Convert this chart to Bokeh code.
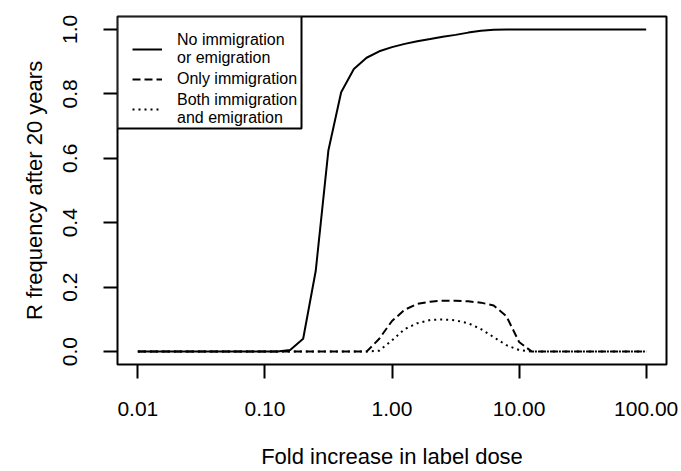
from bokeh.plotting import figure
from bokeh.models import Legend, LegendItem, FixedTicker, Range1d, BoxAnnotation
from bokeh.embed import file_html
from bokeh.resources import INLINE

# Fold increase in label dose (log-spaced sample points)
dose = [0.01, 0.0126, 0.0158, 0.02, 0.0251, 0.0316, 0.0398, 0.0501, 0.0631, 0.0794,
        0.1, 0.126, 0.158, 0.2, 0.251, 0.316, 0.398, 0.501, 0.631, 0.794,
        1.0, 1.26, 1.58, 2.0, 2.51, 3.16, 3.98, 5.01, 6.31, 7.94,
        10.0, 12.6, 15.8, 20.0, 25.1, 31.6, 39.8, 50.1, 63.1, 79.4, 100.0]

# R frequency after 20 years
no_migration = [0, 0, 0, 0, 0, 0, 0, 0, 0, 0,
                0, 0, 0.005, 0.04, 0.25, 0.625, 0.805, 0.877, 0.912, 0.932,
                0.945, 0.955, 0.963, 0.970, 0.977, 0.983, 0.990, 0.996, 0.999, 1.0,
                1.0, 1.0, 1.0, 1.0, 1.0, 1.0, 1.0, 1.0, 1.0, 1.0, 1.0]
only_immigration = [0, 0, 0, 0, 0, 0, 0, 0, 0, 0,
                    0, 0, 0, 0, 0, 0, 0, 0, 0, 0.04,
                    0.095, 0.13, 0.148, 0.155, 0.158, 0.158, 0.156, 0.152, 0.143, 0.11,
                    0.03, 0, 0, 0, 0, 0, 0, 0, 0, 0, 0]
both_migration = [0, 0, 0, 0, 0, 0, 0, 0, 0, 0,
                  0, 0, 0, 0, 0, 0, 0, 0, 0, 0.003,
                  0.035, 0.07, 0.088, 0.098, 0.1, 0.097, 0.088, 0.07, 0.045, 0.02,
                  0.005, 0, 0, 0, 0, 0, 0, 0, 0, 0, 0]

series_labels = ["No immigration\nor emigration", "Only immigration",
                 "Both immigration\nand emigration"]

x_ticks = [0.01, 0.1, 1, 10, 100]
x_tick_labels = ["0.01", "0.10", "1.00", "10.00", "100.00"]
y_ticks = [0.0, 0.2, 0.4, 0.6, 0.8, 1.0]
y_tick_labels = ["0.0", "0.2", "0.4", "0.6", "0.8", "1.0"]

FONT = "Liberation Sans"

p = figure(frame_width=549, frame_height=348, x_axis_type="log",
           x_range=Range1d(0.01 / 10 ** 0.16, 100 * 10 ** 0.16),
           y_range=Range1d(-0.04, 1.04),
           output_backend="svg", toolbar_location=None,
           min_border_left=117, min_border_right=15,
           min_border_top=16, min_border_bottom=107)

p.xgrid.visible = False
p.ygrid.visible = False
p.outline_line_color = "black"
p.outline_line_width = 2
p.outline_line_alpha = 1
p.background_fill_color = "white"
p.border_fill_color = "white"

r1 = p.line(dose, no_migration, line_color="black", line_width=2)
r2 = p.line(dose, only_immigration, line_color="black", line_width=2, line_dash="8 4")
r3 = p.line(dose, both_migration, line_color="black", line_width=2, line_dash="2 4")

for ax in (p.xaxis[0], p.yaxis[0]):
    ax.axis_line_color = None
    ax.major_tick_out = 14
    ax.major_tick_in = 0
    ax.major_tick_line_width = 2
    ax.major_tick_line_color = "black"
    ax.minor_tick_line_color = None
    ax.major_label_text_font = FONT
    ax.major_label_text_font_size = "21px"
    ax.major_label_text_color = "black"
    ax.axis_label_text_font = FONT
    ax.axis_label_text_font_size = "22px"
    ax.axis_label_text_font_style = "normal"
    ax.axis_label_text_color = "black"

xa = p.xaxis[0]
xa.ticker = FixedTicker(ticks=x_ticks)
xa.major_label_overrides = {t: l for t, l in zip(x_ticks, x_tick_labels)}
xa.axis_label = "Fold increase in label dose"
xa.major_label_standoff = 23
xa.axis_label_standoff = 25

ya = p.yaxis[0]
ya.ticker = FixedTicker(ticks=y_ticks)
ya.major_label_overrides = {t: l for t, l in zip(y_ticks, y_tick_labels)}
ya.major_label_orientation = "vertical"
ya.axis_label = "R frequency after 20 years"
ya.major_label_standoff = 26
ya.axis_label_standoff = 14

# legend frame (screen units, relative to the plot frame)
legend_box = BoxAnnotation(left=0, right=184, top=348, bottom=236,
                           left_units="screen", right_units="screen",
                           top_units="screen", bottom_units="screen",
                           fill_color="white", fill_alpha=1,
                           line_color="black", line_width=2, line_alpha=1)
p.add_layout(legend_box)

legend = Legend(items=[LegendItem(label=series_labels[0], renderers=[r1]),
                       LegendItem(label=series_labels[1], renderers=[r2]),
                       LegendItem(label=series_labels[2], renderers=[r3])],
                location="top_left", margin=15, padding=0, spacing=2,
                border_line_color=None,
                background_fill_alpha=0,
                label_text_font=FONT, label_text_font_size="16px",
                label_text_color="black",
                glyph_width=30, glyph_height=20, label_height=20, label_standoff=15)
p.add_layout(legend)

open("out.html", "w").write(file_html(p, INLINE))
